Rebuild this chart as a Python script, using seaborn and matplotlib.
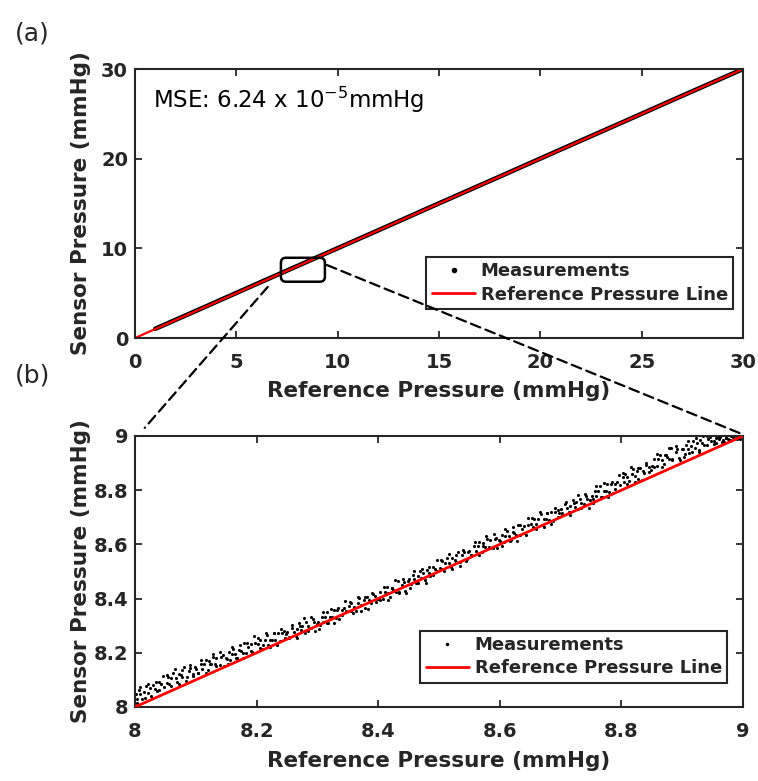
import matplotlib
matplotlib.use("Agg")
import matplotlib.pyplot as plt
from matplotlib.lines import Line2D
from matplotlib.patches import FancyBboxPatch, ConnectionPatch
import seaborn as sns

# reference pressure line (identity) for both panels
ref_full = [0, 30]
ref_zoom = [8, 9]

# (a) sensor readings along the full range
full_x = [1.0, 3.0, 6.0, 9.0, 12.0, 15.0, 18.0, 21.0, 24.0, 27.0, 30.0]
full_y = [1.03, 3.02, 6.03, 9.02, 12.01, 15.02, 18.01, 21.02, 24.01, 27.02, 30.0]

# (b) sensor readings between 8 and 9 mmHg
zoom_x = [
    8.001, 8.004, 8.007, 8.009, 8.012, 8.015, 8.018, 8.021, 8.024, 8.027, 8.030, 8.033, 8.036, 8.040, 8.043, 8.047,
    8.052, 8.055, 8.056, 8.060, 8.063, 8.067, 8.069, 8.072, 8.076, 8.078, 8.081, 8.085, 8.088, 8.091, 8.095, 8.098,
    8.100, 8.103, 8.108, 8.111, 8.114, 8.116, 8.120, 8.123, 8.125, 8.129, 8.132, 8.134, 8.139, 8.142, 8.144, 8.149,
    8.151, 8.154, 8.157, 8.159, 8.162, 8.165, 8.168, 8.171, 8.174, 8.177, 8.180, 8.183, 8.186, 8.190, 8.193, 8.197,
    8.202, 8.205, 8.206, 8.210, 8.213, 8.217, 8.219, 8.222, 8.226, 8.228, 8.231, 8.235, 8.238, 8.241, 8.245, 8.248,
    8.250, 8.253, 8.258, 8.261, 8.264, 8.266, 8.270, 8.273, 8.275, 8.279, 8.282, 8.284, 8.289, 8.292, 8.294, 8.299,
    8.301, 8.304, 8.307, 8.309, 8.312, 8.315, 8.318, 8.321, 8.324, 8.327, 8.330, 8.333, 8.336, 8.340, 8.343, 8.347,
    8.352, 8.355, 8.356, 8.360, 8.363, 8.367, 8.369, 8.372, 8.376, 8.378, 8.381, 8.385, 8.388, 8.391, 8.395, 8.398,
    8.400, 8.403, 8.408, 8.411, 8.414, 8.416, 8.420, 8.423, 8.425, 8.429, 8.432, 8.434, 8.439, 8.442, 8.444, 8.449,
    8.451, 8.454, 8.457, 8.459, 8.462, 8.465, 8.468, 8.471, 8.474, 8.477, 8.480, 8.483, 8.486, 8.490, 8.493, 8.497,
    8.502, 8.505, 8.506, 8.510, 8.513, 8.517, 8.519, 8.522, 8.526, 8.528, 8.531, 8.535, 8.538, 8.541, 8.545, 8.548,
    8.550, 8.553, 8.558, 8.561, 8.564, 8.566, 8.570, 8.573, 8.575, 8.579, 8.582, 8.584, 8.589, 8.592, 8.594, 8.599,
    8.601, 8.604, 8.607, 8.609, 8.612, 8.615, 8.618, 8.621, 8.624, 8.627, 8.630, 8.633, 8.636, 8.640, 8.643, 8.647,
    8.652, 8.655, 8.656, 8.660, 8.663, 8.667, 8.669, 8.672, 8.676, 8.678, 8.681, 8.685, 8.688, 8.691, 8.695, 8.698,
    8.700, 8.703, 8.708, 8.711, 8.714, 8.716, 8.720, 8.723, 8.725, 8.729, 8.732, 8.734, 8.739, 8.742, 8.744, 8.749,
    8.751, 8.754, 8.757, 8.759, 8.762, 8.765, 8.768, 8.771, 8.774, 8.777, 8.780, 8.783, 8.786, 8.790, 8.793, 8.797,
    8.802, 8.805, 8.806, 8.810, 8.813, 8.817, 8.819, 8.822, 8.826, 8.828, 8.831, 8.835, 8.838, 8.841, 8.845, 8.848,
    8.850, 8.853, 8.858, 8.861, 8.864, 8.866, 8.870, 8.873, 8.875, 8.879, 8.882, 8.884, 8.889, 8.892, 8.894, 8.899,
    8.901, 8.904, 8.907, 8.909, 8.912, 8.915, 8.918, 8.921, 8.924, 8.927, 8.930, 8.933, 8.936, 8.940, 8.943, 8.947,
    8.952, 8.955, 8.956, 8.960, 8.963, 8.967, 8.969, 8.972, 8.976, 8.978, 8.981, 8.985, 8.988, 8.991, 8.995, 8.998,
    8.003, 8.009, 8.016, 8.022, 8.028, 8.034, 8.040, 8.046, 8.053, 8.059, 8.066, 8.072, 8.078, 8.084, 8.090, 8.096,
    8.103, 8.109, 8.116, 8.122, 8.128, 8.134, 8.140, 8.146, 8.153, 8.159, 8.166, 8.172, 8.178, 8.184, 8.190, 8.196,
    8.203, 8.209, 8.216, 8.222, 8.228, 8.234, 8.240, 8.246, 8.253, 8.259, 8.266, 8.272, 8.278, 8.284, 8.290, 8.296,
    8.303, 8.309, 8.316, 8.322, 8.328, 8.334, 8.340, 8.346, 8.353, 8.359, 8.366, 8.372, 8.378, 8.384, 8.390, 8.396,
    8.403, 8.409, 8.416, 8.422, 8.428, 8.434, 8.440, 8.446, 8.453, 8.459, 8.466, 8.472, 8.478, 8.484, 8.490, 8.496,
    8.503, 8.509, 8.516, 8.522, 8.528, 8.534, 8.540, 8.546, 8.553, 8.559, 8.566, 8.572, 8.578, 8.584, 8.590, 8.596,
    8.603, 8.609, 8.616, 8.622, 8.628, 8.634, 8.640, 8.646, 8.653, 8.659, 8.666, 8.672, 8.678, 8.684, 8.690, 8.696,
    8.703, 8.709, 8.716, 8.722, 8.728, 8.734, 8.740, 8.746, 8.753, 8.759, 8.766, 8.772, 8.778, 8.784, 8.790, 8.796,
    8.803, 8.809, 8.816, 8.822, 8.828, 8.834, 8.840, 8.846, 8.853, 8.859, 8.866, 8.872, 8.878, 8.884, 8.890, 8.896,
    8.903, 8.909, 8.916, 8.922, 8.928, 8.934, 8.940, 8.946, 8.953, 8.959, 8.966, 8.972, 8.978, 8.984, 8.990, 8.996,
]
zoom_y = [
    8.048, 8.030, 8.062, 8.046, 8.031, 8.057, 8.078, 8.052, 8.069, 8.042, 8.080, 8.068, 8.060, 8.093, 8.083, 8.075,
    8.087, 8.112, 8.083, 8.108, 8.125, 8.106, 8.091, 8.123, 8.119, 8.109, 8.148, 8.111, 8.134, 8.145, 8.113, 8.147,
    8.139, 8.126, 8.159, 8.140, 8.158, 8.175, 8.138, 8.159, 8.157, 8.183, 8.157, 8.182, 8.153, 8.184, 8.190, 8.182,
    8.176, 8.201, 8.174, 8.197, 8.214, 8.194, 8.180, 8.212, 8.207, 8.198, 8.237, 8.199, 8.222, 8.234, 8.201, 8.236,
    8.231, 8.218, 8.247, 8.229, 8.247, 8.266, 8.227, 8.248, 8.248, 8.272, 8.246, 8.273, 8.242, 8.273, 8.281, 8.271,
    8.277, 8.259, 8.293, 8.278, 8.263, 8.288, 8.310, 8.284, 8.300, 8.274, 8.312, 8.299, 8.293, 8.325, 8.314, 8.307,
    8.315, 8.302, 8.333, 8.313, 8.331, 8.349, 8.311, 8.332, 8.331, 8.356, 8.330, 8.356, 8.325, 8.357, 8.364, 8.355,
    8.372, 8.354, 8.384, 8.370, 8.355, 8.382, 8.402, 8.376, 8.394, 8.366, 8.404, 8.393, 8.385, 8.417, 8.408, 8.399,
    8.400, 8.425, 8.400, 8.424, 8.441, 8.420, 8.407, 8.439, 8.433, 8.425, 8.464, 8.425, 8.450, 8.461, 8.427, 8.463,
    8.473, 8.455, 8.487, 8.471, 8.456, 8.482, 8.503, 8.477, 8.494, 8.467, 8.505, 8.493, 8.485, 8.518, 8.508, 8.500,
    8.512, 8.537, 8.508, 8.533, 8.550, 8.531, 8.516, 8.548, 8.544, 8.534, 8.573, 8.536, 8.559, 8.570, 8.538, 8.572,
    8.574, 8.561, 8.594, 8.575, 8.593, 8.610, 8.573, 8.594, 8.592, 8.618, 8.592, 8.617, 8.588, 8.619, 8.625, 8.617,
    8.611, 8.636, 8.609, 8.632, 8.649, 8.629, 8.615, 8.647, 8.642, 8.633, 8.672, 8.634, 8.657, 8.669, 8.636, 8.671,
    8.676, 8.663, 8.692, 8.674, 8.692, 8.711, 8.672, 8.693, 8.693, 8.717, 8.691, 8.718, 8.687, 8.718, 8.726, 8.716,
    8.732, 8.714, 8.748, 8.733, 8.718, 8.743, 8.765, 8.739, 8.755, 8.729, 8.767, 8.754, 8.748, 8.780, 8.769, 8.762,
    8.780, 8.767, 8.798, 8.778, 8.796, 8.814, 8.776, 8.797, 8.796, 8.821, 8.795, 8.821, 8.790, 8.822, 8.829, 8.820,
    8.849, 8.831, 8.861, 8.847, 8.832, 8.859, 8.879, 8.853, 8.871, 8.843, 8.881, 8.870, 8.862, 8.894, 8.885, 8.876,
    8.890, 8.915, 8.890, 8.914, 8.931, 8.910, 8.897, 8.929, 8.923, 8.915, 8.954, 8.915, 8.940, 8.951, 8.917, 8.953,
    8.953, 8.935, 8.967, 8.951, 8.936, 8.962, 8.983, 8.957, 8.974, 8.947, 8.985, 8.973, 8.965, 8.998, 8.988, 8.980,
    8.981, 8.992, 8.975, 8.988, 8.996, 8.984, 8.978, 8.994, 8.990, 8.985, 8.998, 8.987, 8.993, 8.997, 8.989, 8.999,
    8.014, 8.075, 8.034, 8.085, 8.034, 8.091, 8.063, 8.116, 8.119, 8.078, 8.139, 8.085, 8.137, 8.094, 8.154, 8.121,
    8.125, 8.173, 8.125, 8.169, 8.197, 8.150, 8.202, 8.150, 8.159, 8.220, 8.179, 8.230, 8.179, 8.236, 8.208, 8.261,
    8.254, 8.213, 8.274, 8.220, 8.272, 8.229, 8.289, 8.256, 8.255, 8.303, 8.255, 8.299, 8.327, 8.280, 8.332, 8.280,
    8.289, 8.350, 8.309, 8.360, 8.309, 8.366, 8.338, 8.391, 8.387, 8.346, 8.407, 8.353, 8.405, 8.362, 8.422, 8.389,
    8.395, 8.443, 8.395, 8.439, 8.467, 8.420, 8.472, 8.420, 8.439, 8.500, 8.459, 8.510, 8.459, 8.516, 8.488, 8.541,
    8.544, 8.503, 8.564, 8.510, 8.562, 8.519, 8.579, 8.546, 8.560, 8.608, 8.560, 8.604, 8.632, 8.585, 8.637, 8.585,
    8.594, 8.655, 8.614, 8.665, 8.614, 8.671, 8.643, 8.696, 8.699, 8.658, 8.719, 8.665, 8.717, 8.674, 8.734, 8.701,
    8.710, 8.758, 8.710, 8.754, 8.782, 8.735, 8.787, 8.735, 8.754, 8.815, 8.774, 8.825, 8.774, 8.831, 8.803, 8.856,
    8.864, 8.823, 8.884, 8.830, 8.882, 8.839, 8.899, 8.866, 8.885, 8.933, 8.885, 8.929, 8.957, 8.910, 8.962, 8.910,
    8.922, 8.983, 8.942, 8.993, 8.942, 8.999, 8.968, 8.996, 8.972, 8.996, 8.979, 8.991, 8.983, 8.997, 8.988, 8.999,
]

full_xticks = [0, 5, 10, 15, 20, 25, 30]
full_yticks = [0, 10, 20, 30]
zoom_ticks = [8, 8.2, 8.4, 8.6, 8.8, 9]
zoom_ticklabels = ["8", "8.2", "8.4", "8.6", "8.8", "9"]

mse_text = "MSE: 6.24 x $10^{-5}$mmHg"

# zoom box drawn on panel (a) and the ends of the two dashed guide lines
zoom_box = (7.2, 6.28, 2.17, 2.67)
guide_left = ((6.55, 5.7), (8.016, 9.03))
guide_right = ((9.47, 8.14), (8.995, 9.01))

sns.set_theme(style="ticks")
plt.rcParams["font.family"] = ["DejaVu Sans"]
plt.rcParams["mathtext.default"] = "regular"
dark = "#262626"

fig = plt.figure(figsize=(7.58, 7.81), dpi=100)
ax1 = fig.add_axes([0.1781, 0.5672, 0.8021, 0.3444])
ax2 = fig.add_axes([0.1781, 0.0948, 0.8021, 0.3470])

# panel (a)
sns.lineplot(x=full_x, y=full_y, ax=ax1, color="black", linewidth=3.3,
             estimator=None, sort=False, legend=False)
sns.lineplot(x=ref_full, y=ref_full, ax=ax1, color="red", linewidth=1.6,
             estimator=None, sort=False, legend=False)
ax1.set_xlim(0, 30)
ax1.set_ylim(0, 30)
ax1.set_xticks(full_xticks)
ax1.set_yticks(full_yticks)

# panel (b)
sns.scatterplot(x=zoom_x, y=zoom_y, ax=ax2, color="black", s=5, marker="o",
                linewidth=0, legend=False, zorder=2)
sns.lineplot(x=ref_zoom, y=ref_zoom, ax=ax2, color="red", linewidth=2,
             estimator=None, sort=False, legend=False, zorder=3)
ax2.set_xlim(8, 9)
ax2.set_ylim(8, 9)
ax2.set_xticks(zoom_ticks)
ax2.set_xticklabels(zoom_ticklabels)
ax2.set_yticks(zoom_ticks)
ax2.set_yticklabels(zoom_ticklabels)

for ax, dot in ((ax1, 6), (ax2, 3)):
    ax.tick_params(direction="in", length=5, width=1.3, top=True, right=True,
                   labelsize=14, colors=dark)
    ax.tick_params(axis="x", pad=11)
    ax.tick_params(axis="y", pad=5)
    for lab in ax.get_xticklabels() + ax.get_yticklabels():
        lab.set_fontweight("bold")
    for sp in ax.spines.values():
        sp.set_visible(True)
        sp.set_linewidth(1.5)
        sp.set_color(dark)
    ax.set_xlabel("Reference Pressure (mmHg)", fontsize=15.5, fontweight="bold", color=dark)
    ax.set_ylabel("Sensor Pressure (mmHg)", fontsize=15.5, fontweight="bold", color=dark)
    ax.yaxis.set_label_coords(-0.072, 0.5)
    handles = [Line2D([], [], marker=".", linestyle="", color="black", markersize=dot),
               Line2D([], [], color="red", linewidth=2)]
    leg = ax.legend(handles, ["Measurements", "Reference Pressure Line"],
                    loc="lower right", frameon=True, fancybox=False,
                    edgecolor=dark, framealpha=1, borderaxespad=0,
                    prop={"weight": "bold", "size": 13}, handlelength=2.4,
                    borderpad=0.3, labelspacing=0.3, handletextpad=0.3)
    leg.get_frame().set_linewidth(1.5)

ax1.xaxis.set_label_coords(0.5, -0.16)
ax2.xaxis.set_label_coords(0.5, -0.162)
ax1.get_legend().set_bbox_to_anchor((0.984, 0.108), transform=ax1.transAxes)
ax2.get_legend().set_bbox_to_anchor((0.974, 0.089), transform=ax2.transAxes)

ax1.text(0.03, 0.855, mse_text, transform=ax1.transAxes, fontsize=16.5,
         color="black", va="baseline", ha="left")

box = FancyBboxPatch(zoom_box[:2], zoom_box[2], zoom_box[3],
                     boxstyle="round,pad=0,rounding_size=0.25", mutation_aspect=2.26,
                     fill=False, edgecolor="black", linewidth=1.8, zorder=5)
ax1.add_patch(box)

for start, end in (guide_left, guide_right):
    con = ConnectionPatch(xyA=start, coordsA=ax1.transData, xyB=end, coordsB=ax2.transData,
                          color="black", linewidth=1.6, linestyle=(0, (4.5, 2.5)), zorder=10)
    fig.add_artist(con)

fig.text(15 / 758, 1 - 33 / 781, "(a)", fontsize=18, va="center", ha="left")
fig.text(15 / 758, 1 - 376 / 781, "(b)", fontsize=18, va="center", ha="left")

fig.savefig("out.png", dpi=100)
